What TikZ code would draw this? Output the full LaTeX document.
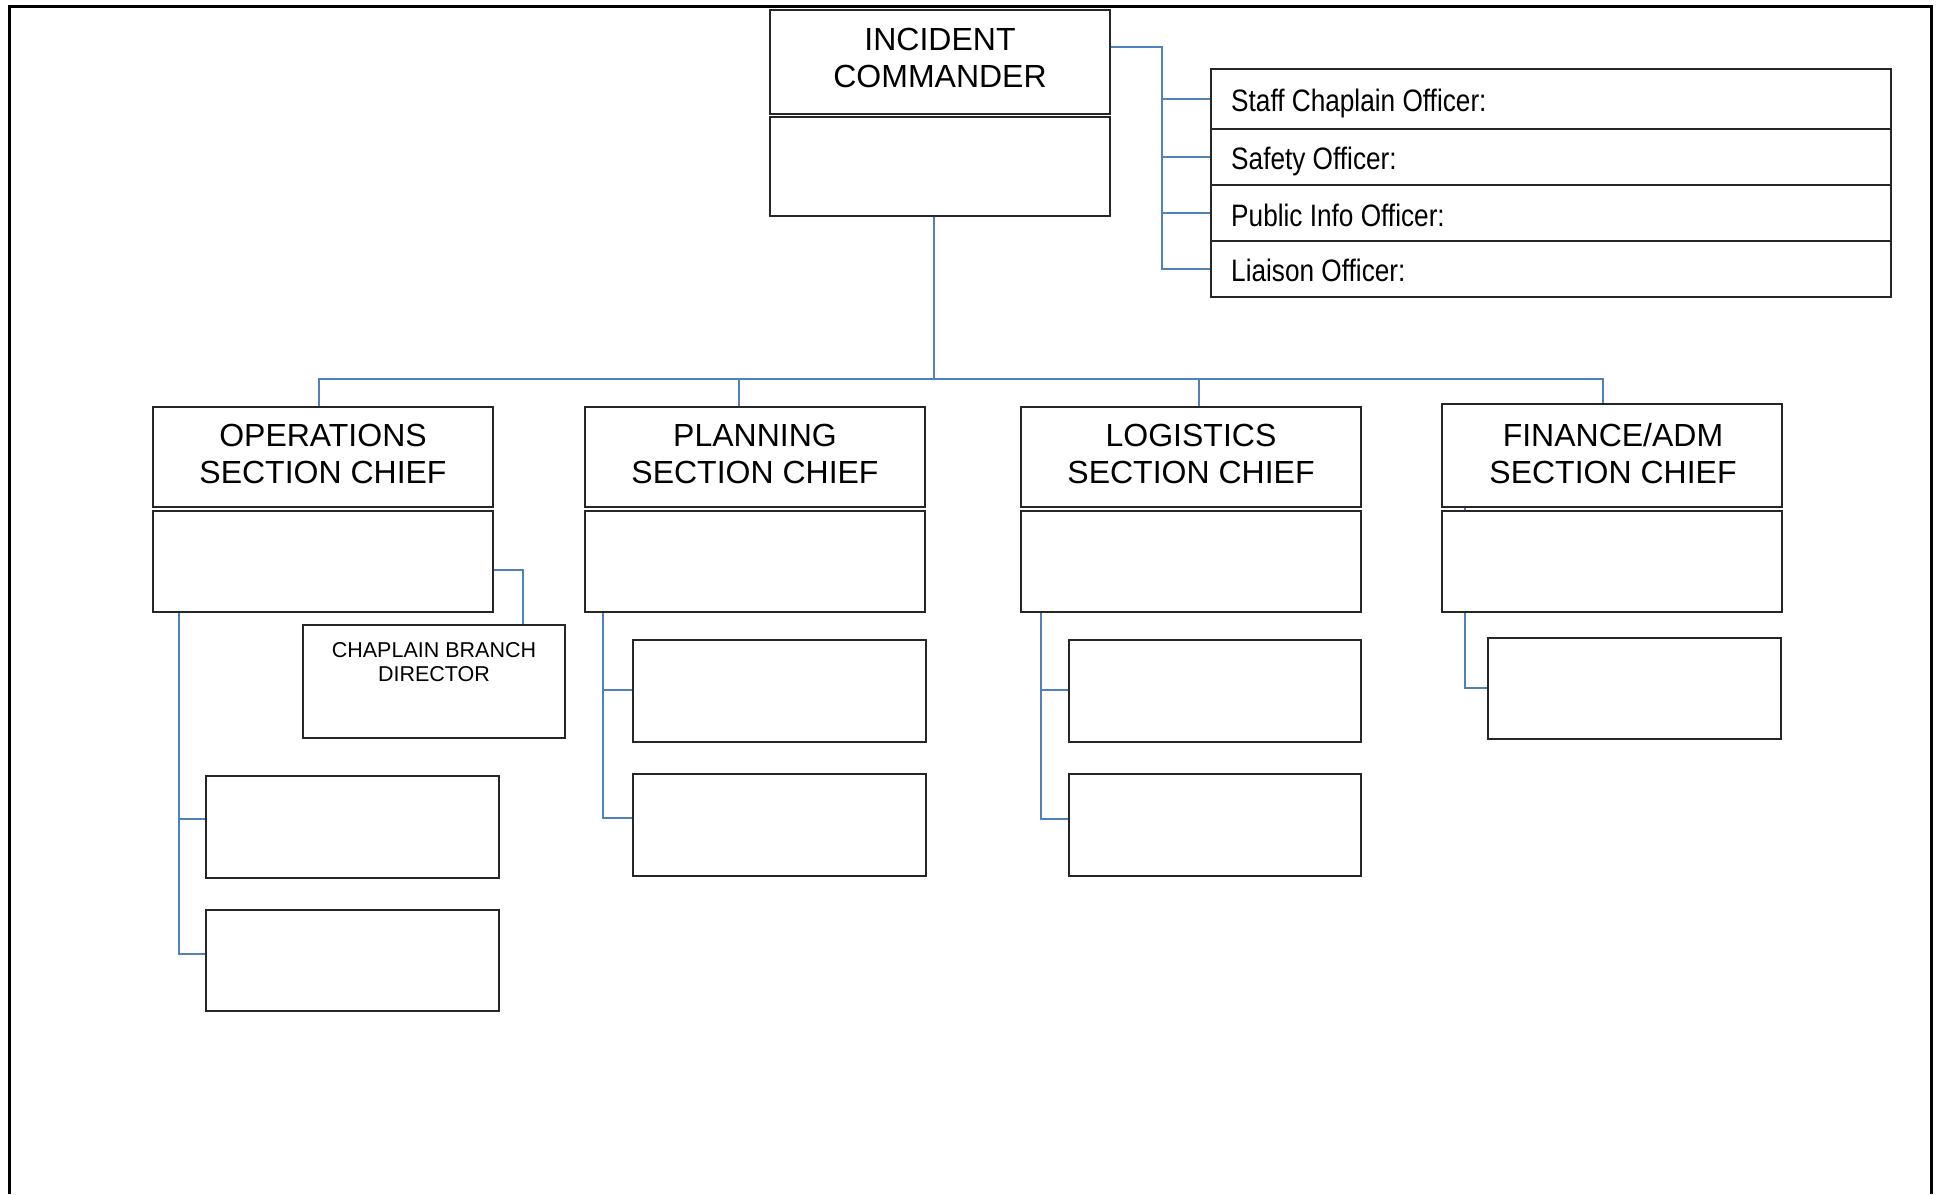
\documentclass[tikz,border=0pt]{standalone}
\usepackage{fontspec}
\setmainfont{Liberation Sans}
\newfontfamily\narrowfont[FakeStretch=0.845]{Liberation Sans}
\definecolor{connblue}{RGB}{79,129,189}
\pgfdeclarelayer{bg}
\pgfsetlayers{bg,main}
\newcommand\bx[5]{\node[box, minimum width=#4pt, minimum height=#5pt] (#1) at (#2,#3) {};}
\begin{document}
\begin{tikzpicture}[x=1pt,y=-1pt,
  box/.style={draw=black!85, line width=1.5pt, fill=white, inner sep=0pt, outer sep=0pt},
  conn/.style={draw=connblue, line width=2pt},
  big/.style={font=\fontsize{32}{37}\selectfont, inner sep=0pt, anchor=base},
  offtxt/.style={font=\narrowfont\fontsize{31}{36}\selectfont, inner sep=0pt, anchor=base west},
  smalltxt/.style={font=\fontsize{21.5}{24}\selectfont, inner sep=0pt, anchor=base}]
\useasboundingbox (0,0) rectangle (1938,1194);
% frame
\draw[line width=3pt] (9,1194) -- (9,6) -- (1931,6) -- (1931,1194);
% boxes
\bx{ict}{940}{62}{340}{104}
\bx{icb}{940}{166.5}{340}{99}
\bx{o1}{1551}{99}{680}{60}
\bx{o2}{1551}{157}{680}{56}
\bx{o3}{1551}{213}{680}{56}
\bx{o4}{1551}{269}{680}{56}
\bx{opsT}{323}{457}{340}{100}
\bx{opsB}{323}{561.5}{340}{101}
\bx{plaT}{755}{457}{340}{100}
\bx{plaB}{755}{561.5}{340}{101}
\bx{logT}{1191}{457}{340}{100}
\bx{logB}{1191}{561.5}{340}{101}
\bx{finT}{1612}{455.5}{340}{103}
\bx{finB}{1612}{561.5}{340}{101}
\bx{chap}{434}{681.5}{262}{113}
\bx{os1}{352.5}{827}{293}{102}
\bx{os2}{352.5}{960.5}{293}{101}
\bx{ps1}{779.5}{691}{293}{102}
\bx{ps2}{779.5}{825}{293}{102}
\bx{ls1}{1215}{691}{292}{102}
\bx{ls2}{1215}{825}{292}{102}
\bx{fs1}{1634.5}{688.5}{293}{101}
% texts
\node[big] (tic1) at (940,50) {INCIDENT};
\node[big] (tic2) at (940,87) {COMMANDER};
\node[big] (tops1) at (323,446) {OPERATIONS};
\node[big] (tops2) at (323,483) {SECTION CHIEF};
\node[big] (tpla1) at (755,446) {PLANNING};
\node[big] (tpla2) at (755,483) {SECTION CHIEF};
\node[big] (tlog1) at (1191,446) {LOGISTICS};
\node[big] (tlog2) at (1191,483) {SECTION CHIEF};
\node[big] (tfin1) at (1613,446) {FINANCE/ADM};
\node[big] (tfin2) at (1613,483) {SECTION CHIEF};
\node[smalltxt] (tch1) at (434,657) {CHAPLAIN BRANCH};
\node[smalltxt] (tch2) at (434,681) {DIRECTOR};
\node[offtxt] (to1) at (1231,111) {Staff Chaplain Officer:};
\node[offtxt] (to2) at (1231,169) {Safety Officer:};
\node[offtxt] (to3) at (1231,226) {Public Info Officer:};
\node[offtxt] (to4) at (1231,281) {Liaison Officer:};
% connectors
\begin{pgfonlayer}{bg}
\coordinate (icv) at (934,379);
\coordinate (dOps) at (319,379);
\coordinate (dPla) at (739,379);
\coordinate (dLog) at (1199,379);
\coordinate (dFin) at (1603,379);
\draw[conn] (icv |- icb.south) -- (icv);
\draw[conn] (dOps |- opsT.north) -- (dOps) -- (dFin) -- (dFin |- finT.north);
\draw[conn] (dPla) -- (dPla |- plaT.north);
\draw[conn] (dLog) -- (dLog |- logT.north);
\coordinate (offv) at (1162,47);
\draw[conn] (offv -| ict.east) -- (offv) -- (offv |- o4.west) -- (o4.west);
\foreach \n in {o1,o2,o3} \draw[conn] (offv |- \n.west) -- (\n.west);
\coordinate (chv) at (523,570);
\draw[conn] (chv -| opsB.east) -- (chv) -- (chv |- chap.north);
\coordinate (ob1) at (179,819);
\coordinate (ob2) at (179,954);
\draw[conn] (ob2 |- opsB.south) -- (ob2) -- (ob2 -| os2.west);
\draw[conn] (ob1) -- (ob1 -| os1.west);
\coordinate (pb1) at (603,690);
\coordinate (pb2) at (603,818);
\draw[conn] (pb2 |- plaB.south) -- (pb2) -- (pb2 -| ps2.west);
\draw[conn] (pb1) -- (pb1 -| ps1.west);
\coordinate (lb1) at (1041,690);
\coordinate (lb2) at (1041,819);
\draw[conn] (lb2 |- logB.south) -- (lb2) -- (lb2 -| ls2.west);
\draw[conn] (lb1) -- (lb1 -| ls1.west);
\coordinate (fb1) at (1465,688);
\draw[conn] (fb1 |- finT.south) -- (fb1) -- (fb1 -| fs1.west);
\end{pgfonlayer}
\end{tikzpicture}
\end{document}
